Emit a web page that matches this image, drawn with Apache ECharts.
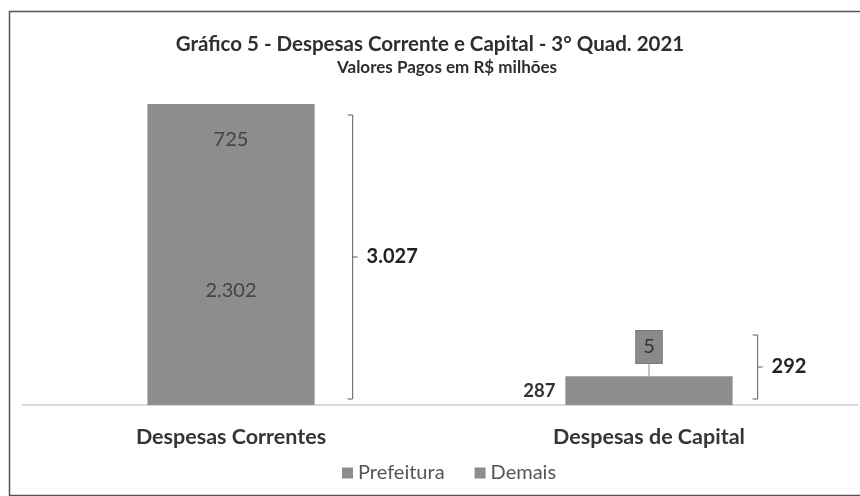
<!DOCTYPE html>
<html>
<head>
<meta charset="utf-8">
<script src="https://cdn.jsdelivr.net/npm/echarts@6/dist/echarts.min.js"></script>
<style>
  html, body { margin: 0; padding: 0; background: #fff; }
  #chart { width: 860px; height: 496px; }
</style>
</head>
<body>
<div id="chart"></div>
<script>
// dados do gráfico (R$ milhões)
const categories = ['Despesas Correntes', 'Despesas de Capital']
const prefeitura = [2302, 287]
const demais = [725, 5]
const totals = categories.map((_, i) => prefeitura[i] + demais[i])

const FONT = 'Lato'
const BAR_COLOR = '#8d8d8d'

// formato pt-BR: 3027 -> 3.027
const fmt = (n) => String(n).replace(/\B(?=(\d{3})+(?!\d))/g, '.')

const chart = echarts.init(document.getElementById('chart'))

// colchete com o total ao lado de cada barra
const renderBracket = (params, api) => {
  const i = api.value(0)
  const base = api.coord([i, 0])
  const top = api.coord([i, api.value(1)])
  const bw = api.size([1, 0])[0] * 0.4
  const x = base[0] + bw / 2 + (i === 0 ? 38 : 25)
  const y1 = Math.min(top[1] + 11, base[1] - 70)
  const y2 = base[1] - 6
  const ym = (y1 + y2) / 2
  const stroke = { stroke: '#777', lineWidth: 1.2 }
  return {
    type: 'group',
    children: [
      { type: 'line', shape: { x1: x, y1: y1, x2: x, y2: y2 }, style: stroke },
      { type: 'line', shape: { x1: x - 5, y1: y1, x2: x, y2: y1 }, style: stroke },
      { type: 'line', shape: { x1: x - 5, y1: y2, x2: x, y2: y2 }, style: stroke },
      { type: 'line', shape: { x1: x, y1: ym, x2: x + 5, y2: ym }, style: stroke },
      {
        type: 'text',
        x: x + 14,
        y: ym,
        style: {
          text: fmt(api.value(1)),
          fill: '#222',
          font: 'bold 20px ' + FONT,
          verticalAlign: 'middle',
        },
      },
    ],
  }
}

chart.setOption({
  backgroundColor: '#fff',
  animation: false,
  graphic: [
    {
      type: 'rect',
      left: 7,
      top: 9,
      shape: { width: 860, height: 484 },
      style: { fill: 'none', stroke: '#555', lineWidth: 1.5 },
      silent: true,
    },
  ],
  title: [
    {
      text: 'Gráfico 5 - Despesas Corrente e Capital - 3° Quad. 2021',
      left: 'center',
      top: 29,
      textStyle: { fontFamily: FONT, fontWeight: 'bold', fontSize: 20.5, color: '#2e2e2e' },
    },
    {
      text: 'Valores Pagos em R$ milhões',
      left: 332,
      top: 54,
      textStyle: { fontFamily: FONT, fontWeight: 'bold', fontSize: 17, color: '#2e2e2e' },
    },
  ],
  legend: {
    data: ['Prefeitura', 'Demais'],
    left: 337,
    top: 458,
    icon: 'rect',
    itemWidth: 11,
    itemHeight: 11,
    itemGap: 30,
    textStyle: { fontFamily: FONT, fontSize: 20, color: '#555' },
  },
  grid: { left: 22, right: 2, top: 104, bottom: 91 },
  xAxis: {
    type: 'category',
    data: categories,
    axisTick: { show: false },
    axisLine: { lineStyle: { color: '#cfcfcf', width: 1.5 } },
    axisLabel: {
      margin: 21,
      fontFamily: FONT,
      fontWeight: 'bold',
      fontSize: 21.5,
      color: '#353535',
    },
  },
  yAxis: {
    type: 'value',
    min: 0,
    max: (v) => v.max,
    show: false,
    splitLine: { show: false },
  },
  series: [
    {
      name: 'Prefeitura',
      type: 'bar',
      stack: 'total',
      barWidth: '40%',
      itemStyle: { color: BAR_COLOR },
      data: prefeitura.map((v, i) => ({
        value: v,
        label: i === 0
          ? { show: true, position: 'inside', color: '#444', fontSize: 20 }
          : { show: true, position: 'left', distance: 10, color: '#333', fontWeight: 'bold', fontSize: 18.5 },
      })),
      label: { fontFamily: FONT, formatter: (p) => fmt(p.value) },
    },
    {
      name: 'Demais',
      type: 'bar',
      stack: 'total',
      barWidth: '40%',
      itemStyle: { color: BAR_COLOR },
      data: demais.map((v, i) => ({
        value: v,
        label: i === 0
          ? { show: true, position: 'inside', color: '#444', fontSize: 20 }
          : {
              show: true,
              position: 'top',
              distance: 13,
              color: '#333',
              fontSize: 20,
              backgroundColor: '#8a8a8a',
              borderColor: '#7a7a7a',
              borderWidth: 1,
              padding: [6, 7, 6, 7],
            },
      })),
      label: { fontFamily: FONT, formatter: (p) => fmt(p.value) },
    },
    {
      // linha-guia do rótulo "5"
      type: 'custom',
      silent: true,
      data: demais.map((v, i) => [i, prefeitura[i] + v, v]),
      renderItem: (params, api) => {
        const i = api.value(0)
        if (api.value(2) > 100) return { type: 'group', children: [] }
        const p = api.coord([i, api.value(1)])
        return {
          type: 'line',
          shape: { x1: p[0], y1: p[1], x2: p[0], y2: p[1] - 13 },
          style: { stroke: '#888', lineWidth: 1 },
        }
      },
      z: 1,
    },
    {
      type: 'custom',
      silent: true,
      data: totals.map((t, i) => [i, t]),
      renderItem: renderBracket,
      z: 3,
    },
  ],
})
</script>
</body>
</html>
